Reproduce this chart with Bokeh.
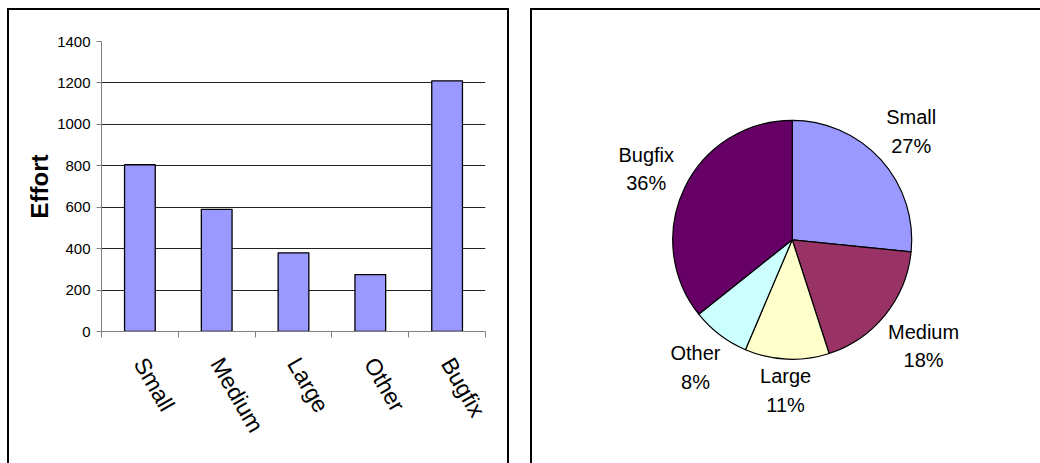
import math
from bokeh.plotting import figure
from bokeh.models import Range1d, FixedTicker
from bokeh.layouts import row, column
from bokeh.embed import file_html
from bokeh.resources import INLINE
from bokeh.core.properties import value

# ---- data ----
categories = ["Small", "Medium", "Large", "Other", "Bugfix"]
effort = [805, 590, 380, 275, 1210]
y_ticks = [0, 200, 400, 600, 800, 1000, 1200, 1400]

pie_labels = ["Small", "Medium", "Large", "Other", "Bugfix"]
pie_shares = [26.6, 18.4, 11.4, 7.9, 35.7]
pie_colors = ["#9999FF", "#993366", "#FFFFCC", "#CCFFFF", "#660066"]

BAR_COLOR = "#9999FF"
FONT = "Liberation Sans"

# approximate advance widths (em) of Liberation Sans glyphs, for label placement
CHAR_EM = {"S": .667, "m": .833, "a": .556, "l": .222, "M": .833, "e": .556,
           "d": .556, "i": .222, "u": .556, "L": .556, "r": .333, "g": .556,
           "O": .778, "t": .278, "h": .556, "B": .667, "f": .278, "x": .5,
           "%": .889}


def text_width(s, px):
    return sum(CHAR_EM.get(c, .556) for c in s) * px


# ---- bar chart ----
n = len(categories)
xs = [i + 0.5 for i in range(n)]
p1 = figure(width=502, height=455, output_backend="svg", toolbar_location=None,
            x_range=Range1d(0, n), y_range=Range1d(0, max(y_ticks)),
            min_border_left=92, min_border_right=26, min_border_top=31,
            min_border_bottom=134)
p1.outline_line_color = None
p1.background_fill_color = "white"
p1.border_fill_color = "white"

p1.vbar(x=xs, top=effort, width=0.4, fill_color=BAR_COLOR, line_color="black",
        line_width=1.3)

xa = p1.xaxis[0]
xa.ticker = FixedTicker(ticks=xs, minor_ticks=list(range(n + 1)))
xa.major_label_overrides = {x: c for x, c in zip(xs, categories)}
xa.major_tick_out = 0
xa.major_tick_in = 0
xa.minor_tick_out = 6
xa.minor_tick_in = 0
xa.minor_tick_line_color = "#808080"
xa.axis_line_color = "#808080"
xa.major_label_orientation = -math.pi / 3
xa.major_label_text_font = FONT
xa.major_label_text_font_size = "23px"
xa.major_label_text_color = "black"
xa.major_label_standoff = 22

ya = p1.yaxis[0]
ya.ticker = FixedTicker(ticks=y_ticks)
ya.minor_tick_line_color = None
ya.major_tick_out = 5
ya.major_tick_in = 0
ya.major_tick_line_color = "#808080"
ya.axis_line_color = "#808080"
ya.major_label_text_font = FONT
ya.major_label_text_font_size = "15px"
ya.major_label_text_color = "black"
ya.major_label_standoff = 6
ya.axis_label = "Effort"
ya.axis_label_text_font = FONT
ya.axis_label_text_font_style = "bold"
ya.axis_label_text_font_size = "24px"
ya.axis_label_text_color = "black"
ya.axis_label_standoff = 1

p1.xgrid.visible = False
p1.ygrid.ticker = FixedTicker(ticks=y_ticks)
p1.ygrid.grid_line_color = "#222222"
p1.ygrid.grid_line_width = 1
p1.styles = {"border-top": "2px solid #000", "border-left": "2px solid #000",
             "border-right": "2px solid #000", "border-bottom": "none"}
p1.margin = (8, 0, 0, 7)

# ---- pie chart ----
R_PX = 119.5
W2, H2 = 510, 455
cx_px, cy_px = 259.7, 228.3
p2 = figure(width=W2, height=H2, output_backend="svg", toolbar_location=None,
            x_range=Range1d(-cx_px / R_PX, (W2 - cx_px) / R_PX),
            y_range=Range1d(-(H2 - 2 - cy_px) / R_PX, cy_px / R_PX),
            min_border=0)
p2.axis.visible = False
p2.grid.visible = False
p2.outline_line_color = None
p2.background_fill_color = "white"
p2.border_fill_color = "white"

total = sum(pie_shares)
starts, ends, mids = [], [], []
cum = 0.0
for s in pie_shares:
    a0 = math.pi / 2 - 2 * math.pi * cum / total
    cum += s
    a1 = math.pi / 2 - 2 * math.pi * cum / total
    starts.append(a0)
    ends.append(a1)
    mids.append((a0 + a1) / 2)

p2.wedge(x=0, y=0, radius=1, start_angle=starts, end_angle=ends,
         direction="clock", fill_color=pie_colors, line_color="black",
         line_width=1.2)

LABEL_PX = 20
lx, ly, texts = [], [], []
for name, s, m in zip(pie_labels, pie_shares, mids):
    pct = f"{round(100 * s / total)}%"
    hw = max(text_width(name, LABEL_PX), text_width(pct, LABEL_PX)) / 2 / R_PX
    hh = 21 / R_PX
    r = 1.07 + hw * abs(math.cos(m)) + hh * abs(math.sin(m))
    lx.append(r * math.cos(m))
    ly.append(r * math.sin(m))
    texts.append(f"{name}\n{pct}")

p2.text(x=lx, y=ly, text=texts, text_align="center", text_baseline="middle",
        text_font=value(FONT), text_font_size=f"{LABEL_PX}px",
        text_line_height=1.3, text_color="black")
p2.styles = {"border-top": "2px solid #000", "border-left": "2px solid #000",
             "border-right": "none", "border-bottom": "none"}
p2.margin = (8, 0, 0, 21)

layout = row(column(p1), column(p2))
layout.styles = {"background-color": "white"}
open("out.html", "w").write(file_html(layout, INLINE))
